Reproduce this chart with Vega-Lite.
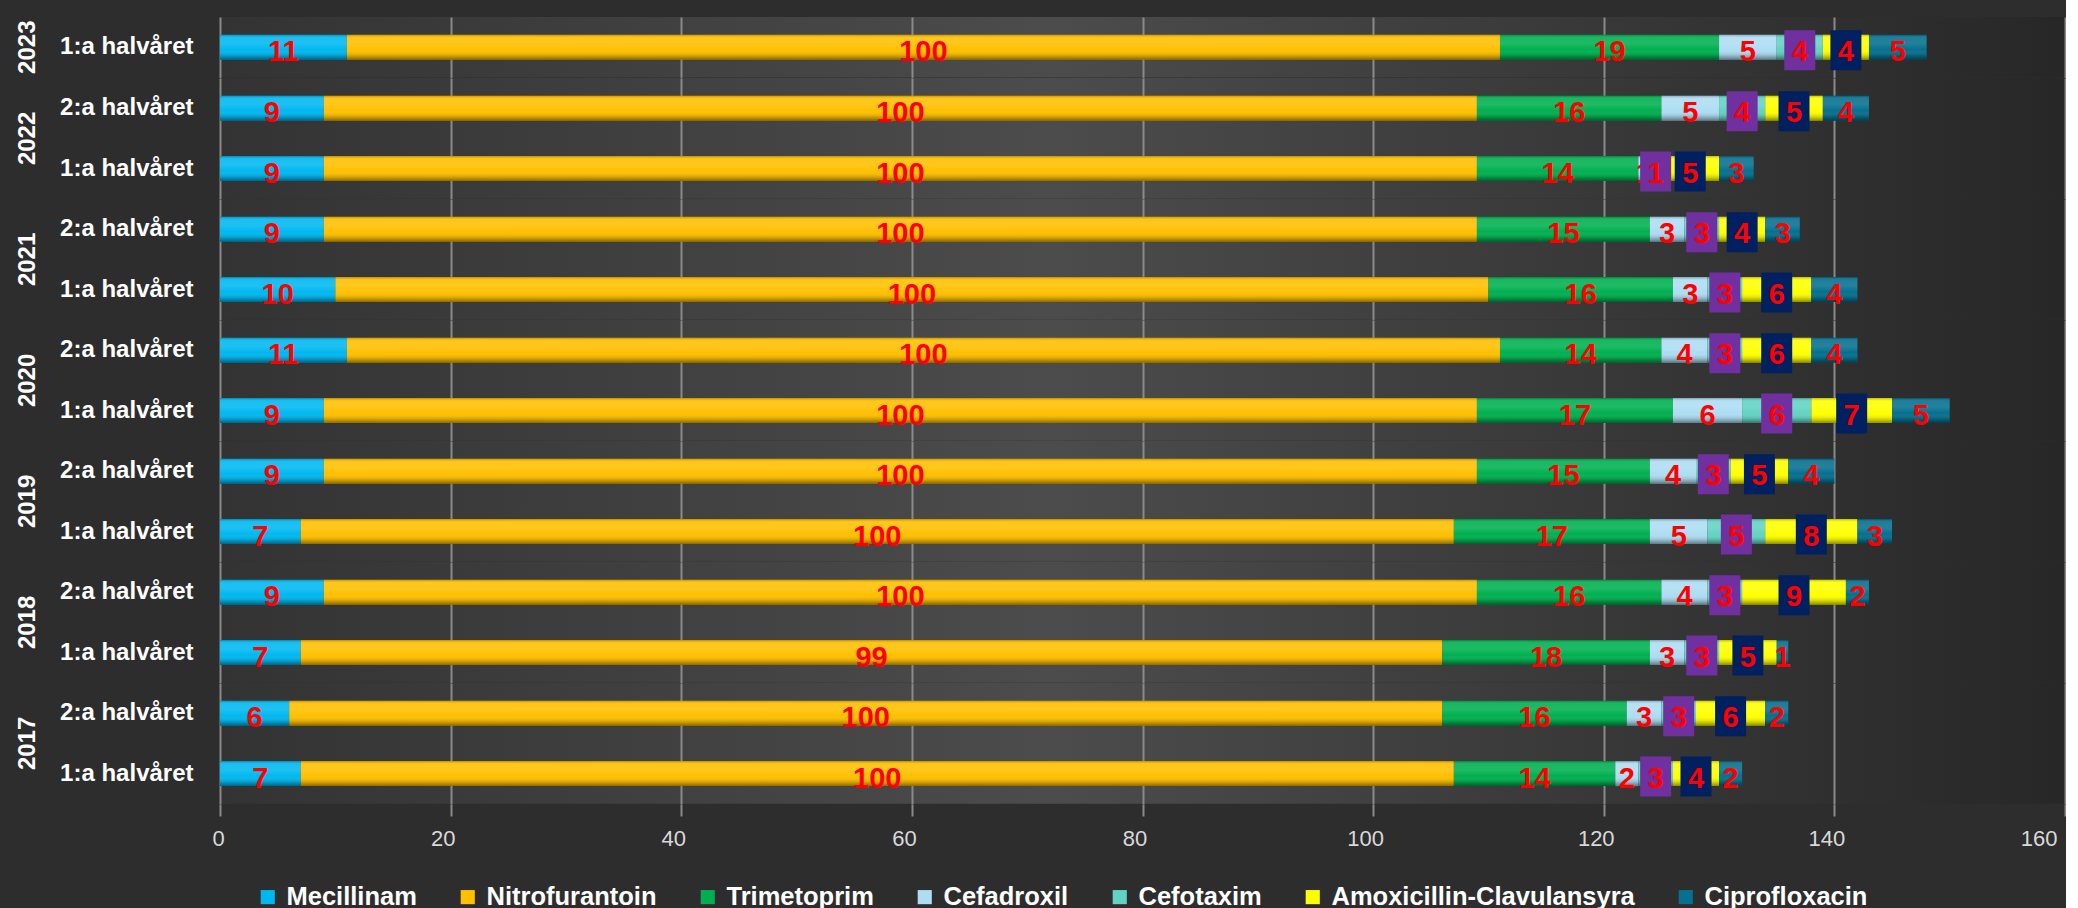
{
  "$schema": "https://vega.github.io/schema/vega-lite/v6.json",
  "background": "#2d2d2d",
  "padding": {"left": 16, "top": 17, "right": 0, "bottom": 0},
  "config": {
    "font": "Liberation Sans",
    "view": {
      "stroke": null,
      "fill": {"gradient": "linear", "x1": 0, "y1": 0, "x2": 1, "y2": 0,
        "stops": [{"offset": 0, "color": "#333333"}, {"offset": 0.45, "color": "#4c4c4c"}, {"offset": 1, "color": "#272727"}]}
    },
    "header": {"labelAngle": -90, "labelFontSize": 24, "labelFontWeight": "bold", "labelColor": "#ffffff", "labelFont": "Liberation Sans", "labelPadding": 7}
  },
  "data": {"values": [
    {"year":"2023","half":"1:a halvåret","series":"Mecillinam","s":1,"value":11},
    {"year":"2023","half":"1:a halvåret","series":"Nitrofurantoin","s":2,"value":100},
    {"year":"2023","half":"1:a halvåret","series":"Trimetoprim","s":3,"value":19},
    {"year":"2023","half":"1:a halvåret","series":"Cefadroxil","s":4,"value":5},
    {"year":"2023","half":"1:a halvåret","series":"Cefotaxim","s":5,"value":4},
    {"year":"2023","half":"1:a halvåret","series":"Amoxicillin-Clavulansyra","s":6,"value":4},
    {"year":"2023","half":"1:a halvåret","series":"Ciprofloxacin","s":7,"value":5},
    {"year":"2022","half":"2:a halvåret","series":"Mecillinam","s":1,"value":9},
    {"year":"2022","half":"2:a halvåret","series":"Nitrofurantoin","s":2,"value":100},
    {"year":"2022","half":"2:a halvåret","series":"Trimetoprim","s":3,"value":16},
    {"year":"2022","half":"2:a halvåret","series":"Cefadroxil","s":4,"value":5},
    {"year":"2022","half":"2:a halvåret","series":"Cefotaxim","s":5,"value":4},
    {"year":"2022","half":"2:a halvåret","series":"Amoxicillin-Clavulansyra","s":6,"value":5},
    {"year":"2022","half":"2:a halvåret","series":"Ciprofloxacin","s":7,"value":4},
    {"year":"2022","half":"1:a halvåret","series":"Mecillinam","s":1,"value":9},
    {"year":"2022","half":"1:a halvåret","series":"Nitrofurantoin","s":2,"value":100},
    {"year":"2022","half":"1:a halvåret","series":"Trimetoprim","s":3,"value":14},
    {"year":"2022","half":"1:a halvåret","series":"Cefadroxil","s":4,"value":1},
    {"year":"2022","half":"1:a halvåret","series":"Cefotaxim","s":5,"value":1},
    {"year":"2022","half":"1:a halvåret","series":"Amoxicillin-Clavulansyra","s":6,"value":5},
    {"year":"2022","half":"1:a halvåret","series":"Ciprofloxacin","s":7,"value":3},
    {"year":"2021","half":"2:a halvåret","series":"Mecillinam","s":1,"value":9},
    {"year":"2021","half":"2:a halvåret","series":"Nitrofurantoin","s":2,"value":100},
    {"year":"2021","half":"2:a halvåret","series":"Trimetoprim","s":3,"value":15},
    {"year":"2021","half":"2:a halvåret","series":"Cefadroxil","s":4,"value":3},
    {"year":"2021","half":"2:a halvåret","series":"Cefotaxim","s":5,"value":3},
    {"year":"2021","half":"2:a halvåret","series":"Amoxicillin-Clavulansyra","s":6,"value":4},
    {"year":"2021","half":"2:a halvåret","series":"Ciprofloxacin","s":7,"value":3},
    {"year":"2021","half":"1:a halvåret","series":"Mecillinam","s":1,"value":10},
    {"year":"2021","half":"1:a halvåret","series":"Nitrofurantoin","s":2,"value":100},
    {"year":"2021","half":"1:a halvåret","series":"Trimetoprim","s":3,"value":16},
    {"year":"2021","half":"1:a halvåret","series":"Cefadroxil","s":4,"value":3},
    {"year":"2021","half":"1:a halvåret","series":"Cefotaxim","s":5,"value":3},
    {"year":"2021","half":"1:a halvåret","series":"Amoxicillin-Clavulansyra","s":6,"value":6},
    {"year":"2021","half":"1:a halvåret","series":"Ciprofloxacin","s":7,"value":4},
    {"year":"2020","half":"2:a halvåret","series":"Mecillinam","s":1,"value":11},
    {"year":"2020","half":"2:a halvåret","series":"Nitrofurantoin","s":2,"value":100},
    {"year":"2020","half":"2:a halvåret","series":"Trimetoprim","s":3,"value":14},
    {"year":"2020","half":"2:a halvåret","series":"Cefadroxil","s":4,"value":4},
    {"year":"2020","half":"2:a halvåret","series":"Cefotaxim","s":5,"value":3},
    {"year":"2020","half":"2:a halvåret","series":"Amoxicillin-Clavulansyra","s":6,"value":6},
    {"year":"2020","half":"2:a halvåret","series":"Ciprofloxacin","s":7,"value":4},
    {"year":"2020","half":"1:a halvåret","series":"Mecillinam","s":1,"value":9},
    {"year":"2020","half":"1:a halvåret","series":"Nitrofurantoin","s":2,"value":100},
    {"year":"2020","half":"1:a halvåret","series":"Trimetoprim","s":3,"value":17},
    {"year":"2020","half":"1:a halvåret","series":"Cefadroxil","s":4,"value":6},
    {"year":"2020","half":"1:a halvåret","series":"Cefotaxim","s":5,"value":6},
    {"year":"2020","half":"1:a halvåret","series":"Amoxicillin-Clavulansyra","s":6,"value":7},
    {"year":"2020","half":"1:a halvåret","series":"Ciprofloxacin","s":7,"value":5},
    {"year":"2019","half":"2:a halvåret","series":"Mecillinam","s":1,"value":9},
    {"year":"2019","half":"2:a halvåret","series":"Nitrofurantoin","s":2,"value":100},
    {"year":"2019","half":"2:a halvåret","series":"Trimetoprim","s":3,"value":15},
    {"year":"2019","half":"2:a halvåret","series":"Cefadroxil","s":4,"value":4},
    {"year":"2019","half":"2:a halvåret","series":"Cefotaxim","s":5,"value":3},
    {"year":"2019","half":"2:a halvåret","series":"Amoxicillin-Clavulansyra","s":6,"value":5},
    {"year":"2019","half":"2:a halvåret","series":"Ciprofloxacin","s":7,"value":4},
    {"year":"2019","half":"1:a halvåret","series":"Mecillinam","s":1,"value":7},
    {"year":"2019","half":"1:a halvåret","series":"Nitrofurantoin","s":2,"value":100},
    {"year":"2019","half":"1:a halvåret","series":"Trimetoprim","s":3,"value":17},
    {"year":"2019","half":"1:a halvåret","series":"Cefadroxil","s":4,"value":5},
    {"year":"2019","half":"1:a halvåret","series":"Cefotaxim","s":5,"value":5},
    {"year":"2019","half":"1:a halvåret","series":"Amoxicillin-Clavulansyra","s":6,"value":8},
    {"year":"2019","half":"1:a halvåret","series":"Ciprofloxacin","s":7,"value":3},
    {"year":"2018","half":"2:a halvåret","series":"Mecillinam","s":1,"value":9},
    {"year":"2018","half":"2:a halvåret","series":"Nitrofurantoin","s":2,"value":100},
    {"year":"2018","half":"2:a halvåret","series":"Trimetoprim","s":3,"value":16},
    {"year":"2018","half":"2:a halvåret","series":"Cefadroxil","s":4,"value":4},
    {"year":"2018","half":"2:a halvåret","series":"Cefotaxim","s":5,"value":3},
    {"year":"2018","half":"2:a halvåret","series":"Amoxicillin-Clavulansyra","s":6,"value":9},
    {"year":"2018","half":"2:a halvåret","series":"Ciprofloxacin","s":7,"value":2},
    {"year":"2018","half":"1:a halvåret","series":"Mecillinam","s":1,"value":7},
    {"year":"2018","half":"1:a halvåret","series":"Nitrofurantoin","s":2,"value":99},
    {"year":"2018","half":"1:a halvåret","series":"Trimetoprim","s":3,"value":18},
    {"year":"2018","half":"1:a halvåret","series":"Cefadroxil","s":4,"value":3},
    {"year":"2018","half":"1:a halvåret","series":"Cefotaxim","s":5,"value":3},
    {"year":"2018","half":"1:a halvåret","series":"Amoxicillin-Clavulansyra","s":6,"value":5},
    {"year":"2018","half":"1:a halvåret","series":"Ciprofloxacin","s":7,"value":1},
    {"year":"2017","half":"2:a halvåret","series":"Mecillinam","s":1,"value":6},
    {"year":"2017","half":"2:a halvåret","series":"Nitrofurantoin","s":2,"value":100},
    {"year":"2017","half":"2:a halvåret","series":"Trimetoprim","s":3,"value":16},
    {"year":"2017","half":"2:a halvåret","series":"Cefadroxil","s":4,"value":3},
    {"year":"2017","half":"2:a halvåret","series":"Cefotaxim","s":5,"value":3},
    {"year":"2017","half":"2:a halvåret","series":"Amoxicillin-Clavulansyra","s":6,"value":6},
    {"year":"2017","half":"2:a halvåret","series":"Ciprofloxacin","s":7,"value":2},
    {"year":"2017","half":"1:a halvåret","series":"Mecillinam","s":1,"value":7},
    {"year":"2017","half":"1:a halvåret","series":"Nitrofurantoin","s":2,"value":100},
    {"year":"2017","half":"1:a halvåret","series":"Trimetoprim","s":3,"value":14},
    {"year":"2017","half":"1:a halvåret","series":"Cefadroxil","s":4,"value":2},
    {"year":"2017","half":"1:a halvåret","series":"Cefotaxim","s":5,"value":3},
    {"year":"2017","half":"1:a halvåret","series":"Amoxicillin-Clavulansyra","s":6,"value":4},
    {"year":"2017","half":"1:a halvåret","series":"Ciprofloxacin","s":7,"value":2}
  ]},
  "transform": [
    {"stack": "value", "groupby": ["year", "half"], "sort": [{"field": "s", "order": "ascending"}], "as": ["v0", "v1"]}
  ],
  "facet": {
    "row": {"field": "year", "type": "ordinal", "sort": "descending", "title": null}
  },
  "spacing": {"row": 0},
  "resolve": {"scale": {"y": "independent"}},
  "spec": {
    "width": 1845,
    "height": {"step": 60.4},
    "encoding": {
      "y": {"field": "half", "type": "nominal", "sort": "descending",
        "scale": {"paddingInner": 0, "paddingOuter": 0},
        "axis": {"title": null, "ticks": false, "domain": false, "grid": false, "labelPadding": 27,
          "labelFontSize": 24, "labelFontWeight": "bold", "labelColor": "#ffffff", "labelLimit": 400}}
    },
    "layer": [
      {
        "mark": {"type": "bar", "size": 25},
        "encoding": {
          "x": {"field": "v0", "type": "quantitative",
            "scale": {"domain": [0, 160], "nice": false},
            "axis": {"title": null, "values": [0, 20, 40, 60, 80, 100, 120, 140, 160], "grid": true,
              "gridColor": "#8a8a8a", "gridWidth": 2, "domain": false, "tickColor": "#8a8a8a", "tickWidth": 2,
              "tickSize": 12, "labelColor": "#d9d9d9", "labelFontSize": 22, "labelPadding": 12, "labelOffset": -8}},
          "x2": {"field": "v1"},
          "color": {"field": "series", "type": "nominal",
            "scale": {"domain": ["Mecillinam", "Nitrofurantoin", "Trimetoprim", "Cefadroxil", "Cefotaxim", "Amoxicillin-Clavulansyra", "Ciprofloxacin"],
              "range": ["#00B8F0", "#FFC000", "#00B050", "#ADDDF3", "#62D3C3", "#FFFF00", "#05708F"]},
            "legend": {"title": null, "orient": "none", "legendX": 35, "legendY": 867, "direction": "horizontal", "symbolType": "square",
              "symbolSize": 200, "symbolStrokeWidth": 0, "labelFontSize": 25.5, "labelFontWeight": "bold",
              "labelColor": "#ffffff", "columnPadding": 38, "labelOffset": 6, "labelLimit": 400}}
        }
      },
      {
        "mark": {"type": "bar", "size": 25,
          "fill": {"gradient": "linear", "x1": 0, "y1": 0, "x2": 0, "y2": 1,
            "stops": [{"offset": 0, "color": "rgba(0,0,0,0.25)"}, {"offset": 0.12, "color": "rgba(255,255,255,0.10)"},
              {"offset": 0.35, "color": "rgba(255,255,255,0.12)"}, {"offset": 0.6, "color": "rgba(255,255,255,0)"},
              {"offset": 0.85, "color": "rgba(0,0,0,0.18)"}, {"offset": 1, "color": "rgba(0,0,0,0.45)"}]}},
        "encoding": {
          "x": {"aggregate": "max", "field": "v1", "type": "quantitative"}
        }
      },
      {
        "transform": [
          {"fold": ["v0", "v1"], "as": ["edge", "pos"]},
          {"aggregate": [{"op": "mean", "field": "pos", "as": "mid"}], "groupby": ["year", "half", "series", "value"]}
        ],
        "encoding": {
          "x": {"field": "mid", "type": "quantitative"}
        },
        "layer": [
          {
            "transform": [{"filter": {"field": "series", "oneOf": ["Mecillinam", "Nitrofurantoin", "Trimetoprim", "Cefadroxil", "Ciprofloxacin"]}}],
            "mark": {"type": "text", "font": "Liberation Sans", "fontWeight": "bold", "fontSize": 29, "fill": "#FF0000", "baseline": "middle", "dy": 5},
            "encoding": {"text": {"field": "value", "type": "quantitative"}}
          },
          {
            "transform": [{"filter": {"field": "series", "equal": "Cefotaxim"}}],
            "mark": {"type": "point", "filled": true, "opacity": 1, "size": 1600, "fill": "#7030A0", "strokeWidth": 0,
              "shape": "M-0.775,-0.85H0.775V1.15H-0.775Z"},
            "encoding": {}
          },
          {
            "transform": [{"filter": {"field": "series", "equal": "Amoxicillin-Clavulansyra"}}],
            "mark": {"type": "point", "filled": true, "opacity": 1, "size": 1600, "fill": "#002060", "strokeWidth": 0,
              "shape": "M-0.775,-0.85H0.775V1.15H-0.775Z"},
            "encoding": {}
          },
          {
            "transform": [{"filter": {"field": "series", "oneOf": ["Cefotaxim", "Amoxicillin-Clavulansyra"]}}],
            "mark": {"type": "text", "font": "Liberation Sans", "fontWeight": "bold", "fontSize": 29, "fill": "#FF0000", "baseline": "middle", "dy": 5},
            "encoding": {"text": {"field": "value", "type": "quantitative"}}
          }
        ]
      }
    ]
  }
}
